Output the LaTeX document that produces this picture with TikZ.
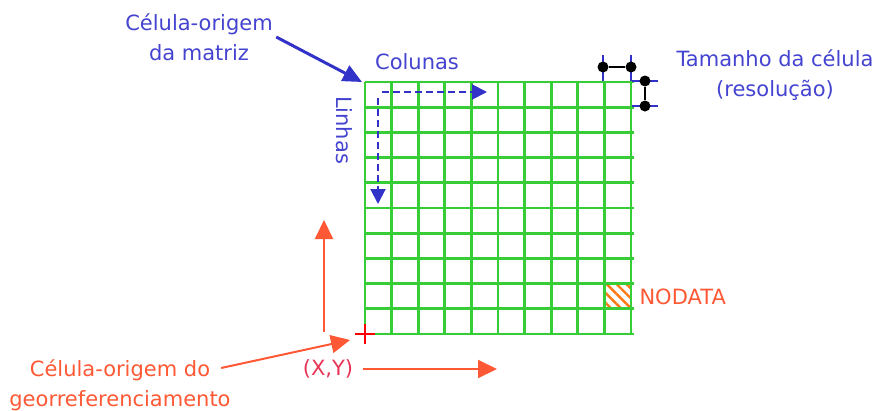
\documentclass[tikz,border=0pt]{standalone}
\usepackage{fontspec}
\setmainfont{DejaVu Sans}
\usetikzlibrary{arrows.meta,patterns.meta}
\definecolor{labelblue}{RGB}{68,68,208}
\definecolor{arrowblue}{RGB}{50,50,200}
\definecolor{gridgreen}{RGB}{55,205,55}
\definecolor{labelorange}{RGB}{255,88,52}
\definecolor{xyred}{RGB}{232,52,86}
\definecolor{hatchorange}{RGB}{255,120,20}
\tikzstyle{bluelabel} = [text=labelblue, align=center, font=\fontsize{21}{30}\selectfont]
\tikzstyle{orangelabel} = [text=labelorange, align=center, font=\fontsize{21}{30}\selectfont]
\tikzstyle{bluearrow} = [arrowblue, line width=3pt, -{Triangle[length=19pt,width=17pt]}]
\tikzstyle{dasharrow} = [arrowblue, line width=2pt, dash pattern=on 7pt off 4pt, -{Triangle[length=15pt,width=15pt]}]
\tikzstyle{orangearrow} = [labelorange, line width=2pt, -{Triangle[length=19pt,width=18pt]}]
\tikzstyle{dot} = [circle, fill=black, inner sep=0pt, minimum size=11pt]
\begin{document}
\begin{tikzpicture}[x=1pt,y=-1pt]
    \useasboundingbox (0,0) rectangle (886,410);
    % raster grid
    \fill[pattern={Lines[angle=-45,distance=7pt,line width=2.4pt]},pattern color=hatchorange]
        (603,283) rectangle (630,307);
    \foreach \i in {0,...,10}{
        \draw[gridgreen,line width=2.8pt] (365+\i*26.6,82) -- (365+\i*26.6,334);
        \draw[gridgreen,line width=2.8pt] (365,82+\i*25.2) -- (634,82+\i*25.2);
    }
    % labels
    \node[bluelabel] (matrixlabel) at (199,37) {Célula-origem\\da matriz};
    \node[bluelabel] (colunas) at (417,62) {Colunas};
    \node[bluelabel,rotate=-90] (linhas) at (344,130) {Linhas};
    \node[bluelabel] (cellsize) at (775,75) {Tamanho da célula\\(resolução)};
    \node[text=labelorange,anchor=west,font=\fontsize{21}{30}\selectfont] (nodata) at (636,297) {NODATA};
    \node[orangelabel] (geolabel) at (120,385) {Célula-origem do\\georreferenciamento};
    \node[text=xyred,font=\fontsize{21}{30}\selectfont] (xy) at (328,369) {(X,Y)};
    % arrows
    \coordinate (gridcorner) at (362,82);
    \draw[bluearrow] (matrixlabel.east) -- (gridcorner);
    \coordinate (colstart) at (382,92);
    \coordinate (colend) at (487,92);
    \coordinate (rowstart) at (378,98);
    \coordinate (rowend) at (378,204);
    \draw[dasharrow] (colstart) -- (colend);
    \draw[dasharrow] (rowstart) -- (rowend);
    \coordinate (georigin) at (350,340);
    \draw[orangearrow] ([xshift=-13pt,yshift=17pt]geolabel.east) -- (georigin);
    \coordinate (xend) at (497,369);
    \draw[orangearrow] ([xshift=6pt]xy.east) -- (xend);
    \coordinate (ybottom) at (324,332);
    \coordinate (ytop) at (324,220);
    \draw[orangearrow] (ybottom) -- (ytop);
    % origin cross
    \draw[red,line width=2.6pt] (355,334) -- (375,334) (365,324) -- (365,344);
    % cell size markers
    \draw[arrowblue,line width=2pt] (603,55) -- (603,81) (631,55) -- (631,81);
    \draw[arrowblue,line width=2pt] (632,81) -- (658,81) (632,106) -- (658,106);
    \node[dot] (wleft) at (603,67) {};
    \node[dot] (wright) at (631,67) {};
    \node[dot] (htop) at (645,81) {};
    \node[dot] (hbottom) at (645,106) {};
    \draw[line width=1.6pt] (wleft) -- (wright);
    \draw[line width=1.6pt] (htop) -- (hbottom);
\end{tikzpicture}
\end{document}
